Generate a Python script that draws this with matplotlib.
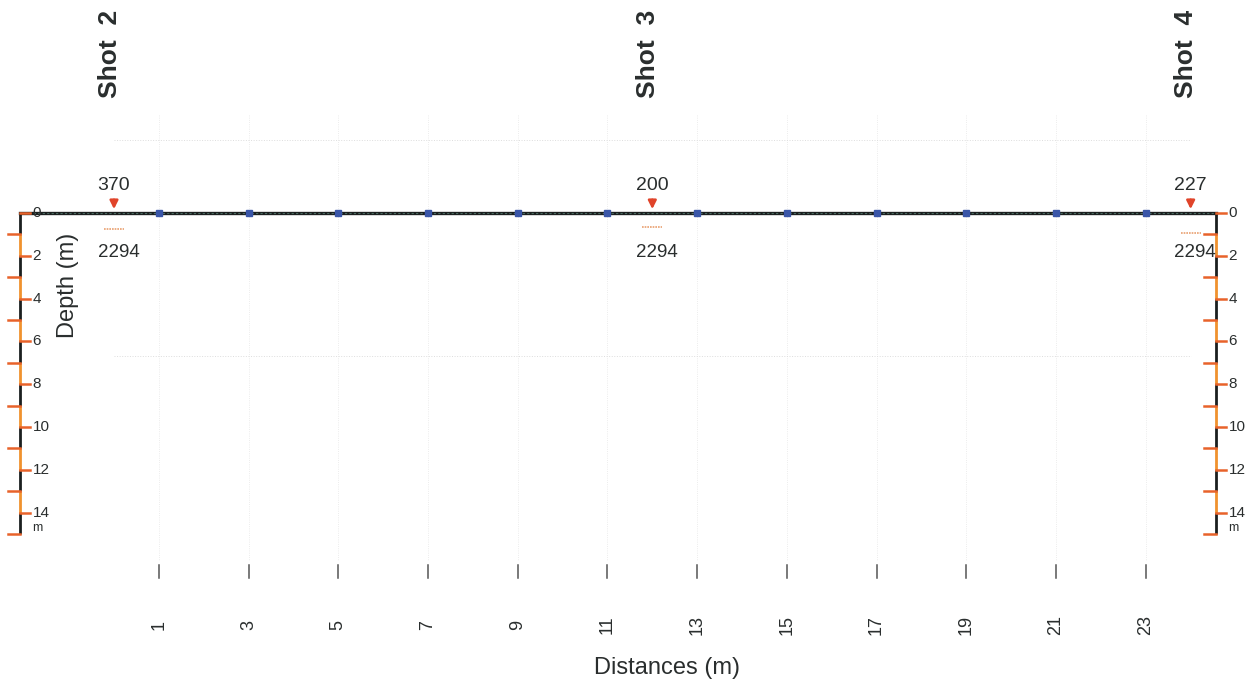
import matplotlib.pyplot as plt

plt.rcParams['font.family'] = ['Liberation Sans', 'DejaVu Sans']

# geophone stations along the line (m)
geophone_x = [1, 3, 5, 7, 9, 11, 13, 15, 17, 19, 21, 23]
geophone_labels = ["1", "3", "5", "7", "9", "11", "13", "15", "17", "19", "21", "23"]

# shots: position, name, first-layer and second-layer velocities (m/s)
shot_x = [0, 12, 24]
shot_names = ["Shot  2", "Shot  3", "Shot  4"]
top_velocity = [370, 200, 227]
bottom_velocity = [2294, 2294, 2294]
interface_depth = [0.75, 0.64, 0.95]

# depth scale (m)
depth_major = [0, 2, 4, 6, 8, 10, 12, 14]
depth_minor = [1, 3, 5, 7, 9, 11, 13, 15]
depth_max = 15

# line extent and scale-bar positions (m)
line_start, line_end = -2.095, 24.565

BLACK = "#1b1f1f"
ORANGE = "#f0922e"
TICK = "#e8622a"
RED = "#e0442a"
BLUE = "#3a56a8"
TEXT = "#2a2e2e"

fig = plt.figure(figsize=(12.53, 6.86), dpi=100)
ax = fig.add_axes([0, 0, 1, 1])
ax.set_xlim(-2.541, 25.39)
ax.set_ylim(22.1, -9.95)
ax.axis("off")

# faint background grid
for gx in geophone_x:
    ax.plot([gx, gx], [-4.6, 16.2], color="#e6e6e6", lw=0.6, ls=":", zorder=0)
for gy in [-3.4, 6.7]:
    ax.plot([0, 24], [gy, gy], color="#dddddd", lw=0.7, ls=":", zorder=0)


def depth_bar(x, ax):
    # alternating black/orange segments, one per metre
    for k in range(depth_max):
        col = BLACK if k % 2 == 0 else ORANGE
        ax.plot([x, x], [k, k + 1], color=col, lw=2.0, solid_capstyle="butt", zorder=3)
    for d in depth_minor:
        ax.plot([x - 0.27, x], [d, d], color=TICK, lw=1.8, zorder=3)
    for d in depth_major:
        ax.plot([x, x + 0.22], [d, d], color=TICK, lw=1.8, zorder=3)
        ax.text(x + 0.28, d, str(d), fontsize=11, color=TEXT, va="center", ha="left", zorder=4)
    ax.text(x + 0.28, 14.7, "m", fontsize=9, color=TEXT, va="center", ha="left")


depth_bar(line_start, ax)
depth_bar(line_end, ax)

# surface line with geophones
ax.plot([line_start, line_end], [0, 0], color=BLACK, lw=2.4, zorder=2)
ax.plot([line_start, line_end], [0, 0], color="#4a6a60", lw=0.8, ls=(0, (2, 2)), zorder=2)
ax.plot(geophone_x, [0] * len(geophone_x), ls="none", marker="s", ms=5,
        mfc=BLUE, mec=BLUE, zorder=5)

# shots, velocities and refractor
for sx, name, v1, v2, zd in zip(shot_x, shot_names, top_velocity, bottom_velocity, interface_depth):
    ax.annotate("", xy=(sx, -0.05), xytext=(sx, -0.75),
                arrowprops=dict(arrowstyle="-|>", color=RED, lw=1.8, mutation_scale=12),
                zorder=6)
    ax.text(sx - 0.1, -7.45, name, rotation=90, fontsize=19, fontweight="bold",
            color=TEXT, ha="center", va="center")
    ax.text(sx, -1.27, str(v1), fontsize=14, color=TEXT, ha="center", va="center")
    ax.text(sx + 0.1, 1.87, str(v2), fontsize=13.5, color=TEXT, ha="center", va="center")
    ax.plot([sx - 0.22, sx + 0.22], [zd, zd], color="#e9a070", lw=1.2, ls=(0, (1, 0.6)), zorder=3)

# distance ticks and labels
for gx, lab in zip(geophone_x, geophone_labels):
    ax.plot([gx, gx], [16.45, 17.05], color="#555555", lw=1.1)
    ax.text(gx, 19.25, lab, rotation=90, fontsize=13, color=TEXT, ha="center", va="center")

ax.text(12.33, 21.25, "Distances (m)", fontsize=17, color=TEXT, ha="center", va="center")
ax.text(-1.03, 3.4, "Depth (m)", rotation=90, fontsize=17, color=TEXT, ha="center", va="center")

fig.savefig("out.png", dpi=100)
